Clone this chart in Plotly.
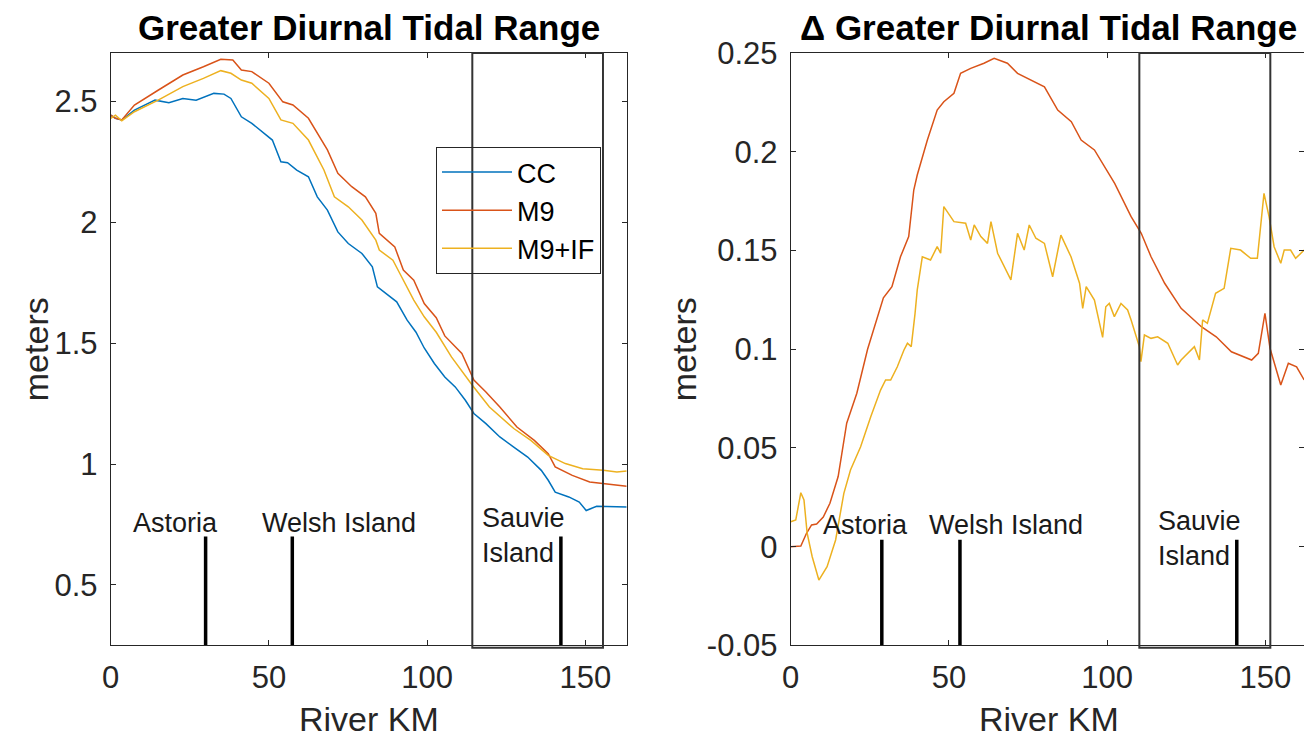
import plotly.graph_objects as go

W, H = 1304, 742

# ---------------- data ----------------
cc_km = [0, 1.5, 3.5, 7.5, 14, 18.4, 22.8, 27, 32.6, 35.8, 38, 41.3, 44.6, 47.8, 51.1, 53.8, 55.9,
         58.8, 62.5, 65.3, 68.5, 71.8, 75.1, 79.4, 82.7, 84.3, 87, 90.4, 93.7, 96.5, 99.1, 102.3,
         105.6, 108.9, 112.1, 114.8, 118.6, 123, 127.4, 131.8, 136.1, 138.3, 140.5, 144.8, 148.1,
         150.3, 153.6, 158, 163.1]
cc_m = [2.443, 2.43, 2.423, 2.464, 2.505, 2.494, 2.512, 2.505, 2.533, 2.530, 2.512, 2.436, 2.409,
        2.374, 2.340, 2.250, 2.246, 2.216, 2.188, 2.105, 2.050, 1.960, 1.912, 1.871, 1.816, 1.733,
        1.705, 1.671, 1.595, 1.545, 1.480, 1.416, 1.360, 1.319, 1.264, 1.209, 1.167, 1.112, 1.070,
        1.029, 0.974, 0.933, 0.884, 0.864, 0.843, 0.808, 0.825, 0.823, 0.822]

m9_km = [0, 1.5, 3.5, 7.5, 15.1, 22.8, 29.3, 34.8, 38.6, 41.3, 44.6, 50, 54.4, 57.6, 62.5, 68.5,
         71.8, 76.2, 80.5, 83.8, 84.9, 89.8, 92.5, 95.8, 99.1, 102.9, 105.6, 111, 114.8, 118.6, 123,
         128.4, 133.9, 138.3, 140.5, 145.9, 151.4, 155.7, 163.1]
m9_m = [2.443, 2.43, 2.423, 2.485, 2.547, 2.609, 2.643, 2.674, 2.671, 2.630, 2.623, 2.575, 2.498,
        2.485, 2.430, 2.299, 2.202, 2.147, 2.105, 2.037, 1.954, 1.898, 1.802, 1.760, 1.664, 1.605,
        1.530, 1.457, 1.347, 1.298, 1.236, 1.153, 1.098, 1.043, 0.988, 0.953, 0.926, 0.919, 0.908]

m9if_km = [0, 1.5, 3.5, 7.5, 15, 22.8, 29.3, 34.8, 38, 41.3, 44.6, 50, 53.8, 57.6, 62.5, 67.4, 70.7,
           75.1, 79.4, 83.8, 84.9, 89.2, 91.4, 95.8, 99.1, 102.9, 107.7, 114.3, 119.7, 127.4, 132.8,
           138.3, 143.7, 149.2, 155.7, 160, 163.1]
m9if_m = [2.43, 2.443, 2.42, 2.457, 2.505, 2.561, 2.595, 2.627, 2.616, 2.588, 2.575, 2.512, 2.423,
          2.409, 2.340, 2.216, 2.105, 2.064, 2.009, 1.926, 1.885, 1.843, 1.788, 1.678, 1.609, 1.545,
          1.443, 1.326, 1.236, 1.147, 1.098, 1.036, 1.002, 0.981, 0.974, 0.967, 0.971]

d_m9_km = [0, 3.2, 5, 6.6, 8.2, 10.3, 12.4, 15, 17.7, 20.9, 24.3, 27.2, 29.3, 32, 34.7, 37.3, 38.9,
           40, 43.2, 46.3, 48.4, 51.6, 53.7, 56.9, 61.1, 64.3, 68.5, 71.7, 77, 80.2, 84.4, 88.7,
           91.8, 96, 102.4, 105.5, 107.6, 110.8, 113.9, 118.2, 123.4, 129.8, 134.5, 139.3, 145.7,
           147.8, 149.9, 151.5, 153.6, 154.9, 157.3, 159.9, 162.3]
d_m9 = [0.0, 0.0003, 0.0068, 0.011, 0.0115, 0.015, 0.022, 0.0355, 0.0625, 0.0777, 0.1, 0.1148,
        0.126, 0.1317, 0.1468, 0.157, 0.1806, 0.1882, 0.2059, 0.2211, 0.2253, 0.2296, 0.2397,
        0.2422, 0.2448, 0.2473, 0.2448, 0.2397, 0.2355, 0.2329, 0.2211, 0.2152, 0.2059, 0.2009,
        0.184, 0.1739, 0.1671, 0.1587, 0.1468, 0.1334, 0.1207, 0.1114, 0.1063, 0.0987, 0.0945,
        0.0979, 0.1182, 0.1005, 0.0895, 0.0819, 0.0929, 0.0911, 0.0844]

d_m9if_km = [0, 1.6, 3.2, 4.2, 5.2, 6.8, 8.9, 11.5, 14.2, 16.8, 18.9, 22.1, 25.3, 28.4, 30, 31.6,
             33.7, 35.8, 36.9, 38.1, 39.3, 40, 41.6, 44.2, 46.3, 47.4, 48.4, 51.6, 55.3, 56.9, 58,
             60.1, 62.2, 63.3, 65.4, 69.6, 71.7, 73.8, 75.4, 77.5, 80.2, 82.8, 85.4, 88.6, 91.3,
             92.3, 93.4, 96, 98.6, 99.6, 100.7, 102.3, 104.4, 106.5, 107.6, 110.2, 110.7, 111.8,
             113.9, 116, 119.2, 122.3, 123.4, 125.5, 127.6, 129.2, 130.2, 131.7, 134.3, 137, 138,
             139.1, 142.2, 145.4, 147.5, 148.6, 149.6, 151.2, 152.8, 154.9, 156, 158, 159.6, 162.3]
d_m9if = [0.0126, 0.0135, 0.0273, 0.0236, 0.0068, -0.0051, -0.0169, -0.0101, 0.0034, 0.027,
          0.0388, 0.0506, 0.0658, 0.0793, 0.0844, 0.0844, 0.0911, 0.0996, 0.103, 0.1013, 0.118,
          0.13, 0.1468, 0.1452, 0.1519, 0.1486, 0.1722, 0.1646, 0.1638, 0.1553, 0.1629, 0.157,
          0.1536, 0.1646, 0.1486, 0.1351, 0.1587, 0.1502, 0.1629, 0.1562, 0.1536, 0.1367, 0.1578,
          0.1468, 0.1334, 0.1207, 0.1317, 0.1249, 0.106, 0.1215, 0.1232, 0.1165, 0.1232, 0.1199,
          0.1148, 0.1013, 0.0937, 0.1072, 0.1055, 0.1063, 0.103, 0.092, 0.0945, 0.0979, 0.1013,
          0.0945, 0.1148, 0.1131, 0.1283, 0.1308, 0.1401, 0.1511, 0.1502, 0.146, 0.146, 0.1654,
          0.1789, 0.1671, 0.1519, 0.1435, 0.1502, 0.1502, 0.146, 0.1502]

series_names = ["CC", "M9", "M9+IF"]
series_colors = ["#0072BD", "#D95319", "#EDB120"]

station_names = ["Astoria", "Welsh Island", "Sauvie<br>Island"]
left_station_km = [30.0, 57.4, 142.3]
right_station_km = [28.8, 53.5, 141.0]
left_label_km = [6.5, 47.2, 116.6]
right_label_km = [9.5, 43.2, 115.5]
left_label_y = [0.755, 0.755, 0.705]
right_label_y = [0.0112, 0.0112, 0.0042]
left_station_top = 0.70
right_station_top = 0.0035

left_box_km = [114.3, 155.6]
right_box_km = [110.2, 151.6]

x_ticks = [0, 50, 100, 150]
left_y_ticks = [0.5, 1, 1.5, 2, 2.5]
left_y_text = ["0.5", "1", "1.5", "2", "2.5"]
right_y_ticks = [-0.05, 0, 0.05, 0.1, 0.15, 0.2, 0.25]
right_y_text = ["-0.05", "0", "0.05", "0.1", "0.15", "0.2", "0.25"]

left_ylim = [0.25, 2.7]
right_ylim = [-0.05, 0.25]
xmax = 163.1

# ---------------- layout geometry (pixels) ----------------
L0, L1 = 110.7, 626.7
R0 = 790.7
PT, PB = 53.0, 645.4
px_per_km = (L1 - L0) / xmax
right_xmax = (W - R0) / px_per_km
R1_full = R0 + xmax * px_per_km

FONT = "Liberation Sans, Arial, Helvetica, sans-serif"
AX = "#262626"
TICKF = 31
LABF = 34
TITF = 35

fig = go.Figure()

left_data = [(cc_km, cc_m), (m9_km, m9_m), (m9if_km, m9if_m)]
for (xs, ys), nm, col in zip(left_data, series_names, series_colors):
    fig.add_trace(go.Scatter(x=xs, y=ys, mode="lines", name=nm,
                             line=dict(color=col, width=1.5), xaxis="x", yaxis="y"))

right_data = [(d_m9_km, d_m9, series_colors[1]), (d_m9if_km, d_m9if, series_colors[2])]
for xs, ys, col in right_data:
    fig.add_trace(go.Scatter(x=xs, y=ys, mode="lines", showlegend=False,
                             line=dict(color=col, width=1.5), xaxis="x2", yaxis="y2"))

# station markers
for k in left_station_km:
    fig.add_trace(go.Scatter(x=[k, k], y=[left_ylim[0], left_station_top], mode="lines",
                             showlegend=False, line=dict(color="black", width=3.5),
                             xaxis="x", yaxis="y", hoverinfo="skip"))
for k in right_station_km:
    fig.add_trace(go.Scatter(x=[k, k], y=[right_ylim[0], right_station_top], mode="lines",
                             showlegend=False, line=dict(color="black", width=3.5),
                             xaxis="x2", yaxis="y2", hoverinfo="skip"))

annotations = []
for nm, xk, yk in zip(station_names, left_label_km, left_label_y):
    annotations.append(dict(x=xk, y=yk, xref="x", yref="y", text=nm, showarrow=False,
                            xanchor="left", yanchor="middle", align="left",
                            font=dict(family=FONT, size=27, color="#1a1a1a")))
for nm, xk, yk in zip(station_names, right_label_km, right_label_y):
    annotations.append(dict(x=xk, y=yk, xref="x2", yref="y2", text=nm, showarrow=False,
                            xanchor="left", yanchor="middle", align="left",
                            font=dict(family=FONT, size=27, color="#1a1a1a")))

# subplot titles
for cx, txt in [((L0 + L1) / 2, "<b>Greater Diurnal Tidal Range</b>"),
                ((R0 + R1_full) / 2, "<b>\u0394 Greater Diurnal Tidal Range</b>")]:
    annotations.append(dict(x=cx / W, y=1 - 27 / H, xref="paper", yref="paper", text=txt,
                            showarrow=False, xanchor="center", yanchor="middle",
                            font=dict(family=FONT, size=TITF, color="black")))

# axis titles
for cx in [(L0 + L1) / 2, (R0 + R1_full) / 2]:
    annotations.append(dict(x=cx / W, y=1 - 719 / H, xref="paper", yref="paper",
                            text="River KM", showarrow=False, xanchor="center",
                            yanchor="middle", font=dict(family=FONT, size=LABF, color=AX)))
for cx in [36, 684]:
    annotations.append(dict(x=cx / W, y=1 - (PT + PB) / 2 / H, xref="paper", yref="paper",
                            text="meters", showarrow=False, textangle=-90, xanchor="center",
                            yanchor="middle", font=dict(family=FONT, size=LABF, color=AX)))

shapes = [
    dict(type="rect", xref="x", yref="y domain", x0=left_box_km[0], x1=left_box_km[1],
         y0=-0.004, y1=1, line=dict(color="#333333", width=2), fillcolor="rgba(0,0,0,0)"),
    dict(type="rect", xref="x2", yref="y2 domain", x0=right_box_km[0], x1=right_box_km[1],
         y0=-0.004, y1=1, line=dict(color="#333333", width=2), fillcolor="rgba(0,0,0,0)"),
]

ydom = [1 - PB / H, 1 - PT / H]
common_x = dict(showgrid=False, zeroline=False, showline=True, linecolor=AX, linewidth=1,
                mirror="ticks", ticks="inside", ticklen=5, tickcolor=AX, tickwidth=1,
                tickvals=x_ticks, tickfont=dict(family=FONT, size=TICKF, color=AX),
                ticklabelstandoff=4, automargin=False)
common_y = dict(showgrid=False, zeroline=False, showline=True, linecolor=AX, linewidth=1,
                mirror="ticks", ticks="inside", ticklen=5, tickcolor=AX, tickwidth=1,
                tickfont=dict(family=FONT, size=TICKF, color=AX), ticklabelstandoff=6,
                automargin=False)

fig.update_layout(
    width=W, height=H,
    margin=dict(l=0, r=0, t=0, b=0, autoexpand=False),
    paper_bgcolor="white", plot_bgcolor="white",
    font=dict(family=FONT, color=AX),
    xaxis=dict(domain=[L0 / W, L1 / W], range=[0, xmax], anchor="y", **common_x),
    yaxis=dict(domain=ydom, range=left_ylim, anchor="x", tickvals=left_y_ticks,
               ticktext=left_y_text, **common_y),
    xaxis2=dict(domain=[R0 / W, 1.0], range=[0, right_xmax], anchor="y2", **common_x),
    yaxis2=dict(domain=ydom, range=right_ylim, anchor="x2", tickvals=right_y_ticks,
                ticktext=right_y_text, **common_y),
    showlegend=True,
    legend=dict(x=601 / W, xanchor="right", y=1 - 147 / H, yanchor="top",
                bgcolor="rgba(0,0,0,0)", bordercolor=AX, borderwidth=1,
                font=dict(family=FONT, size=27, color="black"), itemwidth=70,
                tracegroupgap=0),
    annotations=annotations,
    shapes=shapes,
)

fig.write_html("out.html",
               config={"displayModeBar": False},
               post_script="document.body.style.margin='0px';"
                           "document.body.style.overflow='hidden';")
